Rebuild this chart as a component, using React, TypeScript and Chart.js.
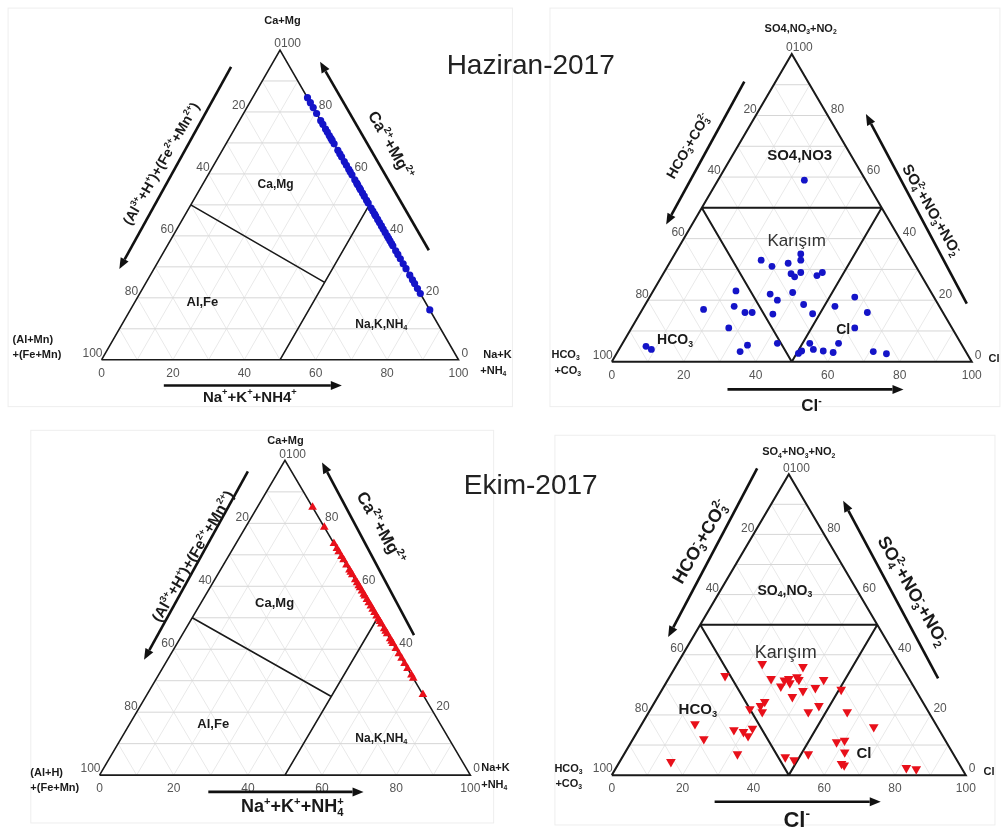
import React, { useEffect, useRef } from "react";
import { Chart, registerables } from "chart.js";

Chart.register(...registerables);

const PAGE_W = 1007;
const PAGE_H = 834;

// tick labels on each ternary side, and the 10% grid
const TICKS = [0, 20, 40, 60, 80, 100];
const GRID = [10, 20, 30, 40, 50, 60, 70, 80, 90];

// Haziran-2017 cations: Ca+Mg % and Na+K+NH4 % (Al+Fe ~ 0)
const hazCatCa = [84.6, 83.0, 81.4, 79.5, 77.2, 76.0, 74.5, 73.5, 72.4, 71.5, 70.8, 69.7, 67.6, 66.5, 65.5, 64.0, 62.8, 61.5, 60.7, 59.7, 58.1, 57.0, 56.5, 55.5, 54.9, 53.8, 52.8, 51.5, 50.6, 49.0, 48.0, 47.0, 46.4, 45.3, 44.3, 43.2, 42.2, 41.1, 40.0, 39.2, 38.4, 37.5, 36.8, 35.2, 34.0, 32.6, 31.0, 29.4, 27.3, 25.8, 24.6, 23.0, 21.4, 16.1];
const hazCatNa = [15.4, 17.0, 18.6, 20.5, 22.8, 24.0, 25.5, 26.5, 27.6, 28.5, 29.2, 30.3, 32.4, 33.5, 34.5, 36.0, 37.2, 38.5, 39.3, 40.3, 41.9, 43.0, 43.5, 44.5, 45.1, 46.2, 47.2, 48.5, 49.4, 51.0, 52.0, 53.0, 53.6, 54.7, 55.7, 56.8, 57.8, 58.9, 60.0, 60.8, 61.6, 62.5, 63.2, 64.8, 66.0, 67.4, 69.0, 70.6, 72.7, 74.2, 75.4, 77.0, 78.6, 83.9];

// Ekim-2017 cations
const ekimCatCa = [85.1, 78.8, 73.6, 72.0, 71.0, 69.5, 68.4, 66.8, 65.2, 64.5, 63.7, 62.1, 61.1, 60.2, 59.5, 58.5, 57.5, 56.9, 55.8, 54.8, 53.7, 52.7, 51.7, 50.6, 49.6, 48.8, 48.0, 46.5, 45.7, 44.9, 43.3, 42.5, 41.8, 40.2, 38.6, 37.1, 35.5, 33.9, 31.8, 30.8, 25.6];
const ekimCatNa = [14.9, 21.2, 26.4, 28.0, 29.0, 30.5, 31.6, 33.2, 34.8, 35.5, 36.3, 37.9, 38.9, 39.8, 40.5, 41.5, 42.5, 43.1, 44.2, 45.2, 46.3, 47.3, 48.3, 49.4, 50.4, 51.2, 52.0, 53.5, 54.3, 55.1, 56.7, 57.5, 58.2, 59.8, 61.4, 62.9, 64.5, 66.1, 68.2, 69.2, 74.4];

// Haziran-2017 anions: Cl % and SO4+NO3+NO2 %
const hazAnCl = [24, 25, 29, 33, 35, 36, 38, 35.5, 37, 43, 44, 23, 33, 36, 39, 25, 29, 31, 37, 44, 48, 53, 57, 63, 17, 27, 62, 7, 9, 34, 35, 43, 50.5, 51, 52, 54, 57, 60, 60, 71, 75];
const hazAnSO4 = [59, 33, 31, 32, 35, 33, 29, 28.6, 27.6, 28, 29, 23, 22, 20, 22.5, 18, 16, 16, 15.5, 18.6, 15.6, 18, 21, 16, 17, 11, 11, 5, 4, 3.3, 5.4, 6, 2.7, 3.5, 6, 4, 3.5, 3, 6, 3.3, 2.6];

// Ekim-2017 anions
const ekimAnCl = [24, 36, 15.5, 29, 33, 36, 37, 33, 35, 44, 43, 40, 38, 50.6, 31, 30.5, 28, 32, 47, 45, 56, 15, 32, 27, 32, 30, 66, 20, 58, 60, 62, 32, 52, 46, 49, 14.5, 63, 64, 82, 85, 34];
const ekimAnSO4 = [37, 36, 33, 32, 31.5, 32.6, 31.7, 29.5, 30.6, 31.7, 29, 28, 26, 28.4, 24.4, 23, 22, 21, 23, 21, 21, 17, 15.5, 15, 13, 14.4, 16, 12, 11, 11.5, 7.6, 7, 7, 6, 5, 4.4, 3.8, 3.3, 2.4, 2, 32];

// region boundaries [r1, t1, r2, t2] in ternary %
const CAT_REGIONS = [[0, 50, 50, 25], [50, 0, 50, 50]];
const AN_REGIONS = [[0, 50, 50, 50], [0, 50, 50, 0], [50, 50, 50, 0]];

type Geo = { L: number; R: number; B: number; T: number };
const GEO_TL: Geo = { L: 97, R: 458, B: 359, T: 45 };
const GEO_TR: Geo = { L: 613, R: 977, B: 361, T: 49 };
const GEO_BL: Geo = { L: 95, R: 470, B: 780, T: 461 };
const GEO_BR: Geo = { L: 613, R: 971, B: 780, T: 475 };

function tern(g: Geo, r: number, t: number) {
  return { x: g.L + ((r + t / 2) / 100) * (g.R - g.L), y: g.B - (t / 100) * (g.B - g.T) };
}
const GAP = () => ({ x: NaN, y: NaN });
function segs(g: Geo, list: number[][]) {
  const out: any[] = [];
  list.forEach(([r1, t1, r2, t2]) => {
    out.push(tern(g, r1, t1), tern(g, r2, t2), GAP());
  });
  return out;
}
function outline(g: Geo) {
  return [tern(g, 0, 0), tern(g, 100, 0), tern(g, 0, 100), tern(g, 0, 0), GAP()];
}
function gridH(g: Geo) {
  return segs(g, GRID.map((v) => [0, v, 100 - v, v]));
}
function gridD(g: Geo) {
  return segs(g, [...GRID.map((v) => [v, 0, v, 100 - v]), ...GRID.map((v) => [100 - v, 0, 0, 100 - v])]);
}
function pts(g: Geo, rs: number[], ts: number[]) {
  return rs.map((r, i) => tern(g, r, ts[i]));
}

const FAMILY = '"Liberation Sans", Arial, sans-serif';
function fontStr(size: number, bold?: boolean) {
  return `${bold ? "bold " : ""}${size}px ${FAMILY}`;
}
type Seg = { t: string; k: number };
function parseRich(s: string): Seg[] {
  const out: Seg[] = [];
  let i = 0;
  let buf = "";
  while (i < s.length) {
    const c = s[i];
    if ((c === "^" || c === "_") && s[i + 1] === "{") {
      if (buf) { out.push({ t: buf, k: 0 }); buf = ""; }
      const end = s.indexOf("}", i);
      out.push({ t: s.slice(i + 2, end), k: c === "^" ? 1 : 2 });
      i = end + 1;
    } else { buf += c; i++; }
  }
  if (buf) out.push({ t: buf, k: 0 });
  return out;
}
function layoutRich(ctx: CanvasRenderingContext2D, segsIn: Seg[], size: number, bold?: boolean) {
  const items: { t: string; k: number; x: number }[] = [];
  let w = 0;
  for (let i = 0; i < segsIn.length; i++) {
    const sg = segsIn[i];
    const sz = sg.k === 0 ? size : size * 0.62;
    ctx.font = fontStr(sz, bold);
    const wi = ctx.measureText(sg.t).width;
    const nx = segsIn[i + 1];
    if (sg.k === 2 && nx && nx.k === 1) {
      const w2 = ctx.measureText(nx.t).width;
      items.push({ t: sg.t, k: 2, x: w });
      items.push({ t: nx.t, k: 1, x: w });
      w += Math.max(wi, w2);
      i++;
    } else {
      items.push({ t: sg.t, k: sg.k, x: w });
      w += wi;
    }
  }
  return { items, w };
}
type TextSpec = { s: string; x: number; y: number; size: number; bold?: boolean; align?: string; rot?: number; color?: string };
function drawRich(ctx: CanvasRenderingContext2D, sp: TextSpec) {
  const { items, w } = layoutRich(ctx, parseRich(sp.s), sp.size, sp.bold);
  ctx.save();
  ctx.translate(sp.x, sp.y);
  if (sp.rot) ctx.rotate((sp.rot * Math.PI) / 180);
  const x0 = sp.align === "left" ? 0 : sp.align === "right" ? -w : -w / 2;
  ctx.fillStyle = sp.color || "#1a1a1a";
  ctx.textBaseline = "alphabetic";
  ctx.textAlign = "left";
  const base = sp.size * 0.36;
  items.forEach((it) => {
    const sz = it.k === 0 ? sp.size : sp.size * 0.62;
    ctx.font = fontStr(sz, sp.bold);
    const dy = it.k === 1 ? -sp.size * 0.42 : it.k === 2 ? sp.size * 0.2 : 0;
    ctx.fillText(it.t, x0 + it.x, base + dy);
  });
  ctx.restore();
}

// arrows [x1,y1,x2,y2] with head at (x2,y2)
const ARROWS = [
  [160, 385, 340, 385], [228, 62, 115, 267], [428, 248, 318, 57],
  [730, 389, 908, 389], [747, 77, 668, 222], [972, 302, 870, 110],
  [205, 797, 362, 797], [245, 472, 140, 663], [413, 638, 320, 463],
  [717, 807, 885, 807], [760, 469, 670, 640], [943, 682, 847, 502],
];

const TEXTS: TextSpec[] = [
  // titles
  { s: "Haziran-2017", x: 531, y: 59, size: 28, color: "#222" },
  { s: "Ekim-2017", x: 531, y: 485, size: 28, color: "#222" },
  // TL cation
  { s: "Ca+Mg", x: 280, y: 15, size: 11, bold: true },
  { s: "(Al+Mn)", x: 7, y: 338, size: 11, bold: true, align: "left" },
  { s: "+(Fe+Mn)", x: 7, y: 353, size: 11, bold: true, align: "left" },
  { s: "Na+K", x: 483, y: 353, size: 11, bold: true, align: "left" },
  { s: "+NH_{4}", x: 480, y: 369, size: 11, bold: true, align: "left" },
  { s: "Ca,Mg", x: 273, y: 180, size: 12, bold: true },
  { s: "Al,Fe", x: 199, y: 300, size: 13, bold: true },
  { s: "Na,K,NH_{4}", x: 380, y: 322, size: 12, bold: true },
  { s: "Na^{+}+K^{+}+NH4^{+}", x: 247, y: 396, size: 15, bold: true },
  { s: "(Al^{3+}+H^{+})+(Fe^{2+}+Mn^{2+})", x: 157, y: 160, size: 14, bold: true, rot: -60 },
  { s: "Ca^{2+}+Mg^{2+}", x: 390, y: 141, size: 16, bold: true, rot: 60 },
  // TR anion
  { s: "SO4,NO_{3}+NO_{2}", x: 804, y: 23, size: 11, bold: true },
  { s: "HCO_{3}", x: 552, y: 353, size: 11, bold: true, align: "left" },
  { s: "+CO_{3}", x: 555, y: 369, size: 11, bold: true, align: "left" },
  { s: "Cl", x: 994, y: 357, size: 11, bold: true, align: "left" },
  { s: "SO4,NO3", x: 803, y: 151, size: 15, bold: true },
  { s: "Karışım", x: 800, y: 237, size: 17, color: "#333" },
  { s: "HCO_{3}", x: 677, y: 338, size: 14, bold: true },
  { s: "Cl", x: 847, y: 328, size: 14, bold: true },
  { s: "Cl^{-}", x: 815, y: 405, size: 17, bold: true },
  { s: "HCO_{3}^{-}+CO_{3}^{2-}", x: 690, y: 142, size: 14, bold: true, rot: -60 },
  { s: "SO_{4}^{2-}+NO_{3}^{-}+NO_{2}^{-}", x: 937, y: 207, size: 15, bold: true, rot: 60 },
  // BL cation
  { s: "Ca+Mg", x: 283, y: 440, size: 11, bold: true },
  { s: "(Al+H)", x: 25, y: 777, size: 11, bold: true, align: "left" },
  { s: "+(Fe+Mn)", x: 25, y: 792, size: 11, bold: true, align: "left" },
  { s: "Na+K", x: 481, y: 772, size: 11, bold: true, align: "left" },
  { s: "+NH_{4}", x: 481, y: 789, size: 11, bold: true, align: "left" },
  { s: "Ca,Mg", x: 272, y: 605, size: 13, bold: true },
  { s: "Al,Fe", x: 210, y: 727, size: 13, bold: true },
  { s: "Na,K,NH_{4}", x: 380, y: 742, size: 12, bold: true },
  { s: "Na^{+}+K^{+}+NH_{4}^{+}", x: 290, y: 811, size: 18, bold: true },
  { s: "(Al^{3+}+H^{+})+(Fe^{2+}+Mn^{2+})", x: 189, y: 558, size: 15, bold: true, rot: -60 },
  { s: "Ca^{2+}+Mg^{2+}", x: 380, y: 529, size: 17, bold: true, rot: 60 },
  // BR anion
  { s: "SO_{4}+NO_{3}+NO_{2}", x: 802, y: 452, size: 11, bold: true },
  { s: "HCO_{3}", x: 555, y: 773, size: 11, bold: true, align: "left" },
  { s: "+CO_{3}", x: 556, y: 788, size: 11, bold: true, align: "left" },
  { s: "Cl", x: 989, y: 776, size: 11, bold: true, align: "left" },
  { s: "SO_{4},NO_{3}", x: 788, y: 592, size: 14, bold: true },
  { s: "Karışım", x: 789, y: 655, size: 18, color: "#333" },
  { s: "HCO_{3}", x: 700, y: 713, size: 15, bold: true },
  { s: "Cl", x: 868, y: 757, size: 15, bold: true },
  { s: "Cl^{-}", x: 800, y: 825, size: 22, bold: true },
  { s: "HCO_{3}^{-}+CO_{3}^{2-}", x: 702, y: 543, size: 18, bold: true, rot: -60 },
  { s: "SO_{4}^{2-}+NO_{3}^{-}+NO_{2}^{-}", x: 918, y: 593, size: 18, bold: true, rot: 60 },
];

const PANELS = [
  [2, 2, 512, 406], [550, 2, 1005, 406], [25, 430, 493, 828], [555, 435, 1000, 830],
];

const ternPlugin = {
  id: "ternText",
  beforeDatasetsDraw(chart: any) {
    const ctx: CanvasRenderingContext2D = chart.ctx;
    const X = (v: number) => chart.scales.x.getPixelForValue(v);
    const Y = (v: number) => chart.scales.y.getPixelForValue(v);
    ctx.save();
    ctx.strokeStyle = "#eeeeee";
    ctx.lineWidth = 1;
    PANELS.forEach(([a, b, c, d]) => {
      ctx.strokeRect(X(a) + 0.5, Y(b) + 0.5, X(c) - X(a), Y(d) - Y(b));
    });
    ctx.restore();
  },
  afterDatasetsDraw(chart: any) {
    const ctx: CanvasRenderingContext2D = chart.ctx;
    const X = (v: number) => chart.scales.x.getPixelForValue(v);
    const Y = (v: number) => chart.scales.y.getPixelForValue(v);
    // tick labels
    [GEO_TL, GEO_TR, GEO_BL, GEO_BR].forEach((g) => {
      TICKS.forEach((v) => {
        const pb = tern(g, v, 0);
        drawRich(ctx, { s: String(v), x: X(pb.x), y: Y(pb.y) + 13, size: 12, color: "#555" });
        const pl = tern(g, 0, 100 - v);
        drawRich(ctx, { s: String(v), x: X(pl.x) + 1, y: Y(pl.y) - 7, size: 12, color: "#555", align: "right" });
        const pr = tern(g, 100 - v, v);
        drawRich(ctx, { s: String(v), x: X(pr.x) + (v === 100 ? 1 : 3), y: Y(pr.y) - 7, size: 12, color: "#555", align: "left" });
      });
    });
    // arrows
    ctx.save();
    ctx.strokeStyle = "#111";
    ctx.fillStyle = "#111";
    ctx.lineWidth = 2.6;
    ARROWS.forEach(([a, b, c, d]) => {
      const x1 = X(a), y1 = Y(b), x2 = X(c), y2 = Y(d);
      const ang = Math.atan2(y2 - y1, x2 - x1);
      const hl = 11, hw = 4.5;
      const bx = x2 - hl * Math.cos(ang), by = y2 - hl * Math.sin(ang);
      ctx.beginPath();
      ctx.moveTo(x1, y1);
      ctx.lineTo(bx, by);
      ctx.stroke();
      ctx.beginPath();
      ctx.moveTo(x2, y2);
      ctx.lineTo(bx + hw * Math.sin(ang), by - hw * Math.cos(ang));
      ctx.lineTo(bx - hw * Math.sin(ang), by + hw * Math.cos(ang));
      ctx.closePath();
      ctx.fill();
    });
    ctx.restore();
    // texts
    TEXTS.forEach((t) => drawRich(ctx, { ...t, x: X(t.x), y: Y(t.y) }));
  },
};

function lineDs(data: any[], color: string, width: number, order: number) {
  return {
    data,
    showLine: true,
    borderColor: color,
    borderWidth: width,
    pointRadius: 0,
    pointHoverRadius: 0,
    fill: false,
    tension: 0,
    spanGaps: false,
    order,
  };
}

export default function App() {
  const ref = useRef<HTMLCanvasElement | null>(null);
  useEffect(() => {
    if (!ref.current) return;
    const geos = [GEO_TL, GEO_TR, GEO_BL, GEO_BR];
    const datasets: any[] = [];
    geos.forEach((g) => {
      datasets.push(lineDs(gridD(g), "#e9e9e9", 1, 4));
      datasets.push(lineDs(gridH(g), "#d6d6d6", 1, 3));
    });
    datasets.push(lineDs([...outline(GEO_TL), ...segs(GEO_TL, CAT_REGIONS)], "#1a1a1a", 1.6, 2));
    datasets.push(lineDs([...outline(GEO_BL), ...segs(GEO_BL, CAT_REGIONS)], "#1a1a1a", 1.6, 2));
    datasets.push(lineDs([...outline(GEO_TR), ...segs(GEO_TR, AN_REGIONS)], "#1a1a1a", 2, 2));
    datasets.push(lineDs([...outline(GEO_BR), ...segs(GEO_BR, AN_REGIONS)], "#1a1a1a", 2, 2));
    datasets.push({
      label: "Haziran katyon",
      data: pts(GEO_TL, hazCatNa, hazCatCa),
      pointStyle: "circle", pointRadius: 3.6, pointBackgroundColor: "#1414c8", pointBorderColor: "#1414c8", pointBorderWidth: 0, order: 0,
    });
    datasets.push({
      label: "Haziran anyon",
      data: pts(GEO_TR, hazAnCl, hazAnSO4),
      pointStyle: "circle", pointRadius: 3.4, pointBackgroundColor: "#1414c8", pointBorderColor: "#1414c8", pointBorderWidth: 0, order: 0,
    });
    datasets.push({
      label: "Ekim katyon",
      data: pts(GEO_BL, ekimCatNa, ekimCatCa),
      pointStyle: "triangle", pointRadius: 5, pointBackgroundColor: "#e8101a", pointBorderColor: "#e8101a", pointBorderWidth: 0, order: 0,
    });
    datasets.push({
      label: "Ekim anyon",
      data: pts(GEO_BR, ekimAnCl, ekimAnSO4),
      pointStyle: "triangle", pointRotation: 180, pointRadius: 5.6, pointBackgroundColor: "#e8101a", pointBorderColor: "#e8101a", pointBorderWidth: 0, order: 0,
    });
    const chart = new Chart(ref.current, {
      type: "scatter",
      data: { datasets },
      options: {
        animation: false,
        responsive: false,
        maintainAspectRatio: false,
        devicePixelRatio: 1,
        layout: { padding: 0 },
        events: [],
        scales: {
          x: { type: "linear", min: 0, max: PAGE_W, display: false },
          y: { type: "linear", min: 0, max: PAGE_H, reverse: true, display: false },
        },
        plugins: { legend: { display: false }, tooltip: { enabled: false }, title: { display: false } },
      },
      plugins: [ternPlugin],
    } as any);
    return () => chart.destroy();
  }, []);
  return (
    <div style={{ position: "absolute", left: 0, top: 0, width: PAGE_W, height: PAGE_H, background: "#fff" }}>
      <canvas ref={ref} width={PAGE_W} height={PAGE_H} style={{ display: "block" }} />
    </div>
  );
}
